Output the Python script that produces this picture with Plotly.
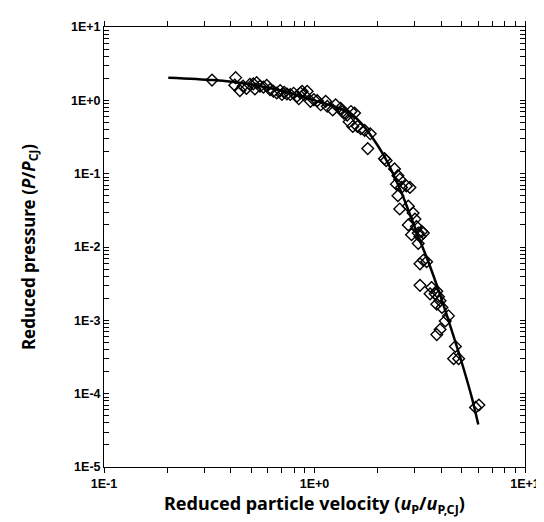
import plotly.graph_objects as go

# Experimental data (open diamonds)
data_x = [0.326, 0.422, 0.418, 0.442, 0.458, 0.475, 0.493, 0.512, 0.521, 0.531,
          0.551, 0.572, 0.593, 0.615, 0.638, 0.662, 0.687, 0.700, 0.718, 0.740,
          0.767, 0.796, 0.826, 0.842, 0.857, 0.873, 0.889, 0.923, 0.957, 0.993,
          1.03, 1.07, 1.13, 1.15, 1.22, 1.26, 1.33, 1.36, 1.38, 1.43,
          1.49, 1.55, 1.46, 1.52, 1.60, 1.66, 1.73, 1.84, 1.79, 2.15,
          2.19, 2.40, 2.49, 2.45, 2.54, 2.59, 2.73, 2.84, 2.49, 2.54,
          2.79, 2.94, 3.00, 2.79, 2.89, 3.05, 3.11, 3.17, 3.23, 3.29,
          3.11, 3.17, 3.29, 3.41, 3.17, 3.60, 3.54, 3.74, 3.81, 3.88,
          3.95, 3.81, 4.03, 4.33, 4.18, 3.95, 3.81, 4.67, 4.58, 4.84,
          5.82, 6.04]
data_y = [1.89, 2.04, 1.61, 1.36, 1.56, 1.45, 1.65, 1.68, 1.43, 1.74,
          1.56, 1.51, 1.60, 1.40, 1.33, 1.26, 1.36, 1.20, 1.29, 1.22,
          1.20, 1.25, 1.14, 1.05, 1.26, 1.33, 1.20, 1.33, 0.97, 1.02,
          0.99, 0.87, 0.97, 0.83, 0.74, 0.87, 0.78, 0.705, 0.67, 0.63,
          0.705, 0.67, 0.51, 0.44, 0.44, 0.41, 0.39, 0.35, 0.22, 0.16,
          0.151, 0.116, 0.094, 0.072, 0.084, 0.065, 0.068, 0.065, 0.050, 0.033,
          0.036, 0.029, 0.024, 0.020, 0.0147, 0.019, 0.0155, 0.0139, 0.0163, 0.0155,
          0.0112, 0.0059, 0.0066, 0.0063, 0.0030, 0.0028, 0.0023, 0.0023, 0.0025, 0.0021,
          0.00185, 0.00166, 0.0015, 0.00115, 0.00098, 0.00075, 0.00064, 0.00044, 0.00030, 0.00030,
          0.000065, 0.000070]

# Fitted curve
fit_x = [0.202, 0.329, 0.475, 0.687, 1.01, 1.435, 1.6, 1.79, 2.0, 2.19,
         2.59, 3.11, 3.48, 3.88, 4.33, 5.02, 5.61, 6.0]
fit_y = [2.04, 1.89, 1.68, 1.36, 0.99, 0.70, 0.55, 0.38, 0.24, 0.155,
         0.055, 0.014, 0.0062, 0.0026, 0.0010, 0.00026, 0.000085, 0.000038]

# Tick positions and labels (decades labelled, 2..9 unlabelled)
x_decades = [0.1, 1, 10]
x_decade_text = ["1E-1", "1E+0", "1E+1"]
y_decades = [1e-5, 1e-4, 1e-3, 1e-2, 1e-1, 1, 10]
y_decade_text = ["1E-5", "1E-4", "1E-3", "1E-2", "1E-1", "1E+0", "1E+1"]
minor_mult = [2, 3, 4, 5, 6, 7, 8, 9]

x_tickvals = list(x_decades) + [m * d for d in x_decades[:-1] for m in minor_mult]
x_ticktext = list(x_decade_text) + [""] * (len(x_tickvals) - len(x_decades))
y_tickvals = list(y_decades) + [m * d for d in y_decades[:-1] for m in minor_mult]
y_ticktext = list(y_decade_text) + [""] * (len(y_tickvals) - len(y_decades))

fig = go.Figure()
fig.add_trace(go.Scatter(x=fit_x, y=fit_y, mode="lines",
                         line=dict(color="black", width=2.5, shape="spline", smoothing=0.8),
                         showlegend=False, hoverinfo="skip"))
fig.add_trace(go.Scatter(x=data_x, y=data_y, mode="markers",
                         marker=dict(symbol="diamond-open", size=9, color="black",
                                     line=dict(width=1.4, color="black")),
                         showlegend=False))

tickfont = dict(family="Liberation Sans", size=12.5, color="black", weight="bold")

fig.update_layout(
    width=544, height=522,
    margin=dict(l=96, r=14, t=17, b=63),
    paper_bgcolor="white", plot_bgcolor="white",
    font=dict(family="Liberation Sans", color="black"),
    xaxis=dict(type="log", range=[-1, 1], tickmode="array",
               tickvals=x_tickvals, ticktext=x_ticktext,
               ticks="outside", ticklen=5, tickwidth=1, tickcolor="black",
               ticklabeloverflow="allow",
               showline=True, linecolor="black", linewidth=1, mirror="allticks",
               showgrid=False, zeroline=False, tickfont=tickfont,
               title=dict(text="<b>Reduced particle velocity (<i>u</i><sub>P</sub>/<i>u</i><sub>P,CJ</sub>)</b>",
                          font=dict(family="Noto Sans", size=18, color="black"), standoff=2)),
    yaxis=dict(type="log", range=[-5, 1], tickmode="array",
               tickvals=y_tickvals, ticktext=y_ticktext,
               ticks="inside", ticklen=5, tickwidth=1, tickcolor="black",
               showline=True, linecolor="black", linewidth=1, mirror="allticks",
               showgrid=False, zeroline=False, tickfont=tickfont,
               title=dict(text="<b>Reduced pressure (<i>P</i>/<i>P</i><sub>CJ</sub>)</b>",
                          font=dict(family="Noto Sans", size=17, color="black"), standoff=31)),
)

fig.write_html("out.html")
